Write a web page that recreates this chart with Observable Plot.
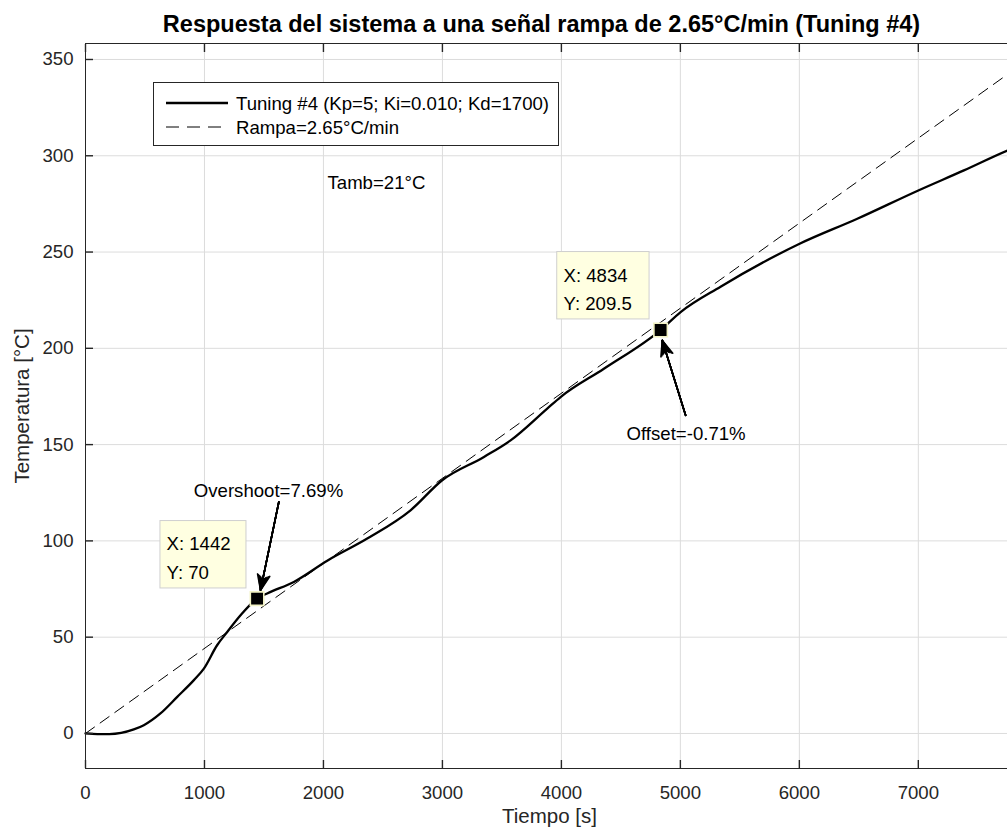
<!DOCTYPE html>
<html>
<head>
<meta charset="utf-8">
<script src="https://cdn.jsdelivr.net/npm/d3@7"></script>
<script src="https://cdn.jsdelivr.net/npm/@observablehq/plot@0.6"></script>
<style>
  html, body { margin: 0; padding: 0; overflow: hidden; background: #fff; }
  #wrap { position: relative; width: 1007px; height: 836px; overflow: hidden; }
  #wrap svg { max-width: none !important; }
  #wrap svg.legend { position: absolute; left: 0; top: 0; }
</style>
</head>
<body>
<div id="wrap"></div>
<script>
// Measured temperature response (Tuning #4)
const timeS = [0, 100, 200, 300, 406, 490, 630, 771, 911, 995, 1106, 1191, 1303, 1442,
  1527, 1751, 2032, 2368, 2732, 2998, 3349, 3573, 3881, 3993, 4357, 4834, 5002, 5338,
  6002, 6487, 7000, 7383, 7760, 7800];
const tempC = [0, -0.3, -0.3, 0.3, 2.1, 4.3, 10.4, 19, 27.7, 33.7, 45.8, 52.7, 61.4, 70,
  72.7, 78.7, 89.7, 101.2, 115.9, 131.5, 143.6, 152.2, 168.7, 174.7, 189.4, 209.5, 218.8, 232,
  254.3, 267.3, 282, 292.4, 303, 304];

// Reference ramp: 2.65 °C/min starting at t = 0
const rampRate = 2.65;          // °C per minute
const rampTimes = [0, 7800];

// Data tips
const tipX = [1442, 4834];
const tipY = [70, 209.5];
const tipText = ["X: 1442\nY: 70", "X: 4834\nY: 209.5"];
const tipBoxX1 = [630, 3965], tipBoxX2 = [1353, 4741];
const tipBoxY1 = [75.3, 215], tipBoxY2 = [110.3, 250];
const tipTextX = [681, 4018], tipTextY = [92.4, 232];

// Text annotations and their arrows
const noteText = ["Tamb=21°C", "Overshoot=7.69%", "Offset=-0.71%"];
const noteX = [2034, 1538, 5048];
const noteY = [285.6, 125.8, 155.4];
const arrowX1 = [1625, 5044], arrowY1 = [120.2, 165.2];
const arrowX2 = [1471, 4848], arrowY2 = [74.4, 204.1];

const xTicks = d3.range(0, 8000, 1000);
const yTicks = d3.range(0, 351, 50);

const response = timeS.map((t, i) => ({t, T: tempC[i]}));
const ramp = rampTimes.map(t => ({t, T: rampRate / 60 * t}));
const tips = tipX.map((x, i) => ({x, y: tipY[i], text: tipText[i],
  bx1: tipBoxX1[i], bx2: tipBoxX2[i], by1: tipBoxY1[i], by2: tipBoxY2[i],
  tx: tipTextX[i], ty: tipTextY[i]}));
const notes = noteText.map((text, i) => ({text, x: noteX[i], y: noteY[i]}));
const arrows = arrowX1.map((x1, i) => ({x1, y1: arrowY1[i], x2: arrowX2[i], y2: arrowY2[i]}));

const axisColor = "#262626";
const font = "Arial, 'Liberation Sans', Helvetica, sans-serif";
const fs = 18.6;      // tick labels, legend, annotations
const labelFs = 20.5; // axis titles

// Filled, swept-back arrow heads built from a fan of thin heads
const headFan = [[6, 11], [14, 11.5], [22, 12.5], [30, 13.5], [38, 14.5], [44, 15.5]];
const arrowMarks = [
  Plot.arrow(arrows, {x1: "x1", y1: "y1", x2: "x2", y2: "y2", stroke: "black", strokeWidth: 1, headLength: 0}),
  ...headFan.map(([angle, len]) => Plot.arrow(arrows, {
    x1: "x1", y1: "y1", x2: "x2", y2: "y2", stroke: "black", strokeWidth: 1.6,
    headAngle: angle, headLength: len
  }))
];

const chart = Plot.plot({
  width: 1030,
  height: 836,
  marginLeft: 85,
  marginRight: 17,
  marginTop: 43,
  marginBottom: 68,
  style: {fontFamily: font, fontSize: fs + "px", color: axisColor, background: "white", maxWidth: "none"},
  x: {domain: [0, 7800], ticks: xTicks},
  y: {domain: [-18.2, 358.3], ticks: yTicks},
  marks: [
    Plot.gridX(xTicks, {stroke: "#dcdcdc", strokeOpacity: 1, strokeWidth: 1}),
    Plot.gridY(yTicks, {stroke: "#dcdcdc", strokeOpacity: 1, strokeWidth: 1}),
    Plot.line(ramp, {x: "t", y: "T", stroke: "black", strokeWidth: 1, strokeDasharray: "11,7"}),
    Plot.line(response, {x: "t", y: "T", stroke: "black", strokeWidth: 2.3, curve: "monotone-x"}),
    Plot.frame({stroke: axisColor, strokeWidth: 1}),
    Plot.axisX(xTicks, {anchor: "bottom", tickSize: -8, tickPadding: 25, tickFormat: d => String(d), stroke: axisColor, strokeWidth: 1.4, fill: axisColor, label: null, fontSize: fs}),
    Plot.axisX(xTicks, {anchor: "top", tickSize: -8, text: null, stroke: axisColor, strokeWidth: 1.4, label: null}),
    Plot.axisY(yTicks, {anchor: "left", tickSize: -8, tickPadding: 20, tickFormat: d => String(d), stroke: axisColor, strokeWidth: 1.4, fill: axisColor, label: null, fontSize: fs}),
    // annotation arrows
    ...arrowMarks,
    // data tip boxes
    Plot.rect(tips, {x1: "bx1", x2: "bx2", y1: "by1", y2: "by2", fill: "#ffffe1", stroke: "#cfcfcf", strokeWidth: 1}),
    Plot.text(tips, {x: "tx", y: "ty", text: "text", textAnchor: "start", lineHeight: 1.55, fill: "black", fontSize: fs}),
    Plot.dot(tips, {x: "x", y: "y", symbol: "square", r: 7.6, fill: "black", stroke: "#f2f2c4", strokeWidth: 1.6}),
    Plot.text(notes.slice(0, 1), {x: "x", y: "y", text: "text", textAnchor: "start", fill: "black", fontSize: fs}),
    Plot.text(notes.slice(1), {x: "x", y: "y", text: "text", textAnchor: "middle", fill: "black", fontSize: fs}),
    // title and axis labels
    Plot.text(["Respuesta del sistema a una señal rampa de 2.65°C/min (Tuning #4)"], {
      frameAnchor: "top", dx: -8, dy: -28, fontWeight: "bold", fontSize: 23.5, fill: "black"}),
    Plot.text(["Tiempo [s]"], {frameAnchor: "bottom", dy: 54, fill: axisColor, fontSize: labelFs}),
    Plot.text(["Temperatura [°C]"], {frameAnchor: "left", textAnchor: "middle", dx: -63, rotate: -90, fill: axisColor, fontSize: labelFs})
  ]
});

const wrap = document.getElementById("wrap");
wrap.appendChild(chart);

// Legend box
const legend = d3.create("svg").attr("class", "legend").attr("width", 1007).attr("height", 836)
  .style("font-family", font).style("font-size", fs + "px");
legend.append("rect").attr("x", 153.5).attr("y", 82.5).attr("width", 405).attr("height", 63)
  .attr("fill", "white").attr("stroke", axisColor).attr("stroke-width", 1);
const legendItems = [
  {label: "Tuning #4 (Kp=5; Ki=0.010; Kd=1700)", dash: null, width: 2.3, y: 103},
  {label: "Rampa=2.65°C/min", dash: "13,8", width: 1, y: 127}
];
legendItems.forEach(item => {
  legend.append("line").attr("x1", 166).attr("x2", 228).attr("y1", item.y).attr("y2", item.y)
    .attr("stroke", "black").attr("stroke-width", item.width).attr("stroke-dasharray", item.dash);
  legend.append("text").attr("x", 236).attr("y", item.y).attr("dy", "0.35em").attr("fill", "black")
    .text(item.label);
});
wrap.appendChild(legend.node());
</script>
</body>
</html>
